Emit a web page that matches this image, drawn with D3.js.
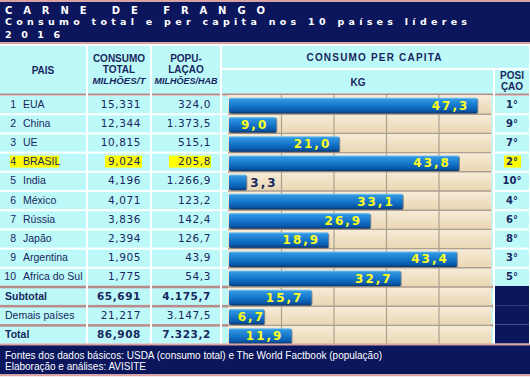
<!DOCTYPE html>
<html>
<head>
<meta charset="utf-8">
<script src="https://cdn.jsdelivr.net/npm/d3@7"></script>
<style>
  body { margin: 0; background: #fff; }
  svg { display: block; }
</style>
</head>
<body>
<div id="container"></div>
<script>
// Carne de frango - consumo total e per capita, 10 paises lideres (2016)

const paises = ["EUA", "China", "UE", "BRASIL", "India", "México", "Rússia", "Japão", "Argentina", "Africa do Sul"]
const resumo = ["Subtotal", "Demais países", "Total"]
const consumoTotal = [15.331, 12.344, 10.815, 9.024, 4.196, 4.071, 3.836, 2.394, 1.905, 1.775, 65.691, 21.217, 86.908]
const populacao = [324.0, 1373.5, 515.1, 205.8, 1266.9, 123.2, 142.4, 126.7, 43.9, 54.3, 4175.7, 3147.5, 7323.2]
const perCapita = [47.3, 9.0, 21.0, 43.8, 3.3, 33.1, 26.9, 18.9, 43.4, 32.7, 15.7, 6.7, 11.9]
const posicao = [1, 9, 7, 2, 10, 4, 6, 8, 3, 5]
const destaque = "BRASIL"

const width = 530, height = 378
const navy = "#0b165c", cyan = "#bef9f9", ink = "#16275e", brown = "#b88c8c"

const loc = d3.formatLocale({ decimal: ",", thousands: ".", grouping: [3], currency: ["", ""] })
const f3 = loc.format(",.3f"), f1 = loc.format(",.1f")

const svg = d3.select("#container").append("svg")
    .attr("width", width)
    .attr("height", height)
    .style("font-family", "Liberation Sans, Arial, sans-serif")

const defs = svg.append("defs")
const barGrad = defs.append("linearGradient").attr("id", "barGrad").attr("x1", 0).attr("y1", 0).attr("x2", 0).attr("y2", 1)
barGrad.selectAll("stop")
    .data([[0, "#7cc8f4"], [0.12, "#2f95e0"], [0.55, "#1273c8"], [0.85, "#0a58a8"], [1, "#06356e"]])
    .enter().append("stop")
    .attr("offset", d => d[0]).attr("stop-color", d => d[1])
const cellGrad = defs.append("linearGradient").attr("id", "cellGrad").attr("x1", 0).attr("y1", 0).attr("x2", 0).attr("y2", 1)
cellGrad.selectAll("stop")
    .data([[0, "#f7ecd9"], [1, "#e9d6b2"]])
    .enter().append("stop")
    .attr("offset", d => d[0]).attr("stop-color", d => d[1])

// ---- heading ----
svg.append("rect").attr("width", width).attr("height", 44).attr("fill", "#d9a3a3")
svg.append("rect").attr("y", 2).attr("width", width).attr("height", 40).attr("fill", navy)

const head = svg.append("g").attr("fill", "#fff").style("font-weight", "bold")
    .style("font-family", "DejaVu Sans, Verdana, sans-serif")
head.append("text").attr("x", 5).attr("y", 14)
    .attr("textLength", 260).attr("lengthAdjust", "spacing")
    .style("font-size", "10px")
    .text("CARNE DE FRANGO")
head.append("text").attr("x", 5).attr("y", 24.5)
    .attr("textLength", 462).attr("lengthAdjust", "spacing")
    .style("font-size", "9.5px")
    .text("Consumo total e per capita nos 10 países líderes")
head.append("text").attr("x", 5).attr("y", 37.5)
    .attr("textLength", 55).attr("lengthAdjust", "spacing")
    .style("font-size", "9.5px")
    .text("2016")

// ---- column layout ----
const cols = [
    { x0: 0, x1: 86 },      // pais
    { x0: 88, x1: 150 },    // consumo
    { x0: 152, x1: 220 },   // populacao
    { x0: 222, x1: 493 },   // per capita
    { x0: 495, x1: 529 },   // posicao
]

// header cells
const hdr = svg.append("g").attr("fill", cyan)
hdr.append("rect").attr("x", 0).attr("y", 46).attr("width", 86).attr("height", 48)
hdr.append("rect").attr("x", 88).attr("y", 46).attr("width", 62).attr("height", 48)
hdr.append("rect").attr("x", 152).attr("y", 46).attr("width", 68).attr("height", 48)
hdr.append("rect").attr("x", 222).attr("y", 46).attr("width", 307).attr("height", 22)
hdr.append("rect").attr("x", 222).attr("y", 70).attr("width", 271).attr("height", 24)
hdr.append("rect").attr("x", 495).attr("y", 70).attr("width", 34).attr("height", 24)

const hText = svg.append("g").attr("fill", ink).attr("text-anchor", "middle")
    .style("font-weight", "bold").style("font-size", "10px")
hText.append("text").attr("x", 43).attr("y", 74).text("PAIS")
hText.append("text").attr("x", 119).attr("y", 62).text("CONSUMO")
hText.append("text").attr("x", 119).attr("y", 73).text("TOTAL")
hText.append("text").attr("x", 119).attr("y", 83.5).style("font-size", "8.5px").style("font-style", "italic")
    .attr("textLength", 53).attr("lengthAdjust", "spacingAndGlyphs").text("MILHÕES/T")
hText.append("text").attr("x", 186).attr("y", 62).text("POPU-")
hText.append("text").attr("x", 186).attr("y", 73).text("LAÇAO")
hText.append("text").attr("x", 186).attr("y", 83.5).style("font-size", "8.5px").style("font-style", "italic")
    .attr("textLength", 63).attr("lengthAdjust", "spacingAndGlyphs").text("MILHÕES/HAB")
hText.append("text").attr("x", 374).attr("y", 61)
    .attr("textLength", 135).attr("lengthAdjust", "spacing").text("CONSUMO PER CAPITA")
hText.append("text").attr("x", 358).attr("y", 86).text("KG")
hText.append("text").attr("x", 512).attr("y", 79).text("POSI")
hText.append("text").attr("x", 512).attr("y", 90).text("ÇAO")

// brown line under header
cols.forEach(c => svg.append("rect").attr("x", c.x0).attr("y", 93.5).attr("width", c.x1 - c.x0).attr("height", 2).attr("fill", brown))

// ---- rows ----
const nRows = perCapita.length
const rowY = i => 96 + 19.2 * i
const rowH = 17.2
const labels = paises.concat(resumo)

const rows = svg.append("g")
d3.range(nRows).forEach(i => {
    cols.forEach((c, j) => {
        const dark = j === 4 && i >= 10
        rows.append("rect").attr("x", c.x0).attr("y", rowY(i) - (dark ? 2 : 0))
            .attr("width", c.x1 - c.x0).attr("height", rowH + (dark ? 2 : 0)).attr("fill", dark ? navy : cyan)
    })
    if (i >= 10) {
        cols.slice(0, 4).forEach(c => rows.append("rect").attr("x", c.x0).attr("y", rowY(i) - 2.3)
            .attr("width", c.x1 - c.x0).attr("height", 2.6).attr("fill", brown))
    }
})

// per capita plot area
const x = d3.scaleLinear().domain([0, 50]).range([229, 491.5])
const plot = svg.append("g")
plot.selectAll("rect.cell")
    .data(d3.range(nRows))
    .enter().append("rect")
    .attr("class", "cell")
    .attr("x", x(0) - 1)
    .attr("y", i => rowY(i) - 1)
    .attr("width", x(50) - x(0) + 1)
    .attr("height", 19.2)
    .attr("fill", "url(#cellGrad)")
plot.selectAll("line.h")
    .data(d3.range(1, nRows))
    .enter().append("line")
    .attr("x1", x(0) - 1).attr("x2", x(50))
    .attr("y1", i => rowY(i) - 1).attr("y2", i => rowY(i) - 1)
    .attr("stroke", "#ad9f90").attr("stroke-width", 1.4)
plot.selectAll("line.v")
    .data(x.ticks(5).filter(t => t > 0 && t < 50))
    .enter().append("line")
    .attr("x1", d => x(d)).attr("x2", d => x(d))
    .attr("y1", rowY(0) - 1).attr("y2", rowY(nRows - 1) + rowH + 1)
    .attr("stroke", "#ad9f90").attr("stroke-width", 1.2)

// bars
const bars = plot.selectAll("g.bar")
    .data(perCapita)
    .enter().append("g").attr("class", "bar")
bars.append("rect")
    .attr("x", x(0) + 1).attr("y", (d, i) => rowY(i) + 2.5)
    .attr("width", d => x(d) - x(0)).attr("height", 15.5)
    .attr("rx", 2).attr("fill", "#3c4a5c").attr("opacity", 0.6)
bars.append("rect")
    .attr("x", x(0)).attr("y", (d, i) => rowY(i) + 1.8)
    .attr("width", d => x(d) - x(0)).attr("height", 15.5)
    .attr("rx", 1.5).attr("fill", "url(#barGrad)")

bars.append("text")
    .attr("y", (d, i) => rowY(i) + 13.8)
    .style("font-family", "DejaVu Sans, Verdana, sans-serif")
    .style("font-weight", "bold").style("font-size", "12px")
    .style("letter-spacing", "2px")
    .attr("fill", d => d < 5 ? ink : "#ffff1e")
    .attr("text-anchor", d => d < 5 ? "start" : "end")
    .attr("x", d => d < 5 ? x(d) + 4 : Math.max(x(d) - 8, 265))
    .text(d => f1(d))

// left columns text
const tx = svg.append("g").attr("fill", ink)
labels.forEach((name, i) => {
    const yb = rowY(i) + 11.5
    const bold = (i === 10 || i === 12)
    const hl = name === destaque
    if (hl) {
        tx.append("rect").attr("x", 10).attr("y", rowY(i) + 2).attr("width", 49).attr("height", 12).attr("fill", "#ffff00")
        tx.append("rect").attr("x", 105).attr("y", rowY(i) + 2).attr("width", 37).attr("height", 12).attr("fill", "#ffff00")
        tx.append("rect").attr("x", 169).attr("y", rowY(i) + 2).attr("width", 42).attr("height", 12).attr("fill", "#ffff00")
    }
    if (i < 10) {
        tx.append("text").attr("x", 16).attr("y", yb).attr("text-anchor", "end")
            .style("font-size", "10.5px").text(i + 1)
        tx.append("text").attr("x", 23).attr("y", yb)
            .style("font-size", "10.5px").text(name)
    } else {
        tx.append("text").attr("x", 5).attr("y", yb)
            .style("font-size", "10.5px").style("font-weight", bold ? "bold" : "normal").text(name)
    }
    tx.append("text").attr("x", 141).attr("y", yb).attr("text-anchor", "end")
        .style("font-family", "DejaVu Sans, Verdana, sans-serif").style("font-size", "10.5px")
        .style("letter-spacing", "0.6px").style("font-weight", bold ? "bold" : "normal")
        .text(f3(consumoTotal[i]))
    tx.append("text").attr("x", 211).attr("y", yb).attr("text-anchor", "end")
        .style("font-family", "DejaVu Sans, Verdana, sans-serif").style("font-size", "10.5px")
        .style("letter-spacing", "0.6px").style("font-weight", bold ? "bold" : "normal")
        .text(f1(populacao[i]))
    if (i < 10) {
        if (hl) tx.append("rect").attr("x", 504).attr("y", rowY(i) + 2).attr("width", 17).attr("height", 12).attr("fill", "#ffff00")
        tx.append("text").attr("x", 512).attr("y", yb).attr("text-anchor", "middle")
            .style("font-family", "DejaVu Sans, Verdana, sans-serif").style("font-weight", "bold").style("font-size", "10px")
            .text(posicao[i] + "°")
    }
})

// ---- footer ----
svg.append("rect").attr("y", 343.5).attr("width", width).attr("height", 33).attr("fill", "#d9a3a3")
svg.append("rect").attr("y", 345.5).attr("width", width).attr("height", 28.5).attr("fill", navy)
const foot = svg.append("g").attr("fill", "#fff").style("font-size", "10px")
foot.append("text").attr("x", 5).attr("y", 359)
    .text("Fontes dos dados básicos: USDA (consumo total) e The World Factbook (população)")
foot.append("text").attr("x", 5).attr("y", 370)
    .text("Elaboração e análises: AVISITE")
svg.append("rect").attr("y", 376.5).attr("width", width).attr("height", 2).attr("fill", "#fff")
</script>
</body>
</html>
